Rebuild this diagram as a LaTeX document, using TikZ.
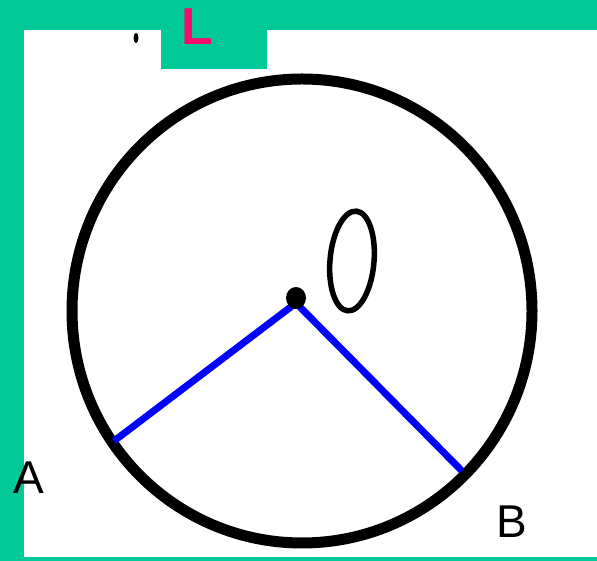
\documentclass[tikz,border=0pt]{standalone}
\usepackage{fontspec}
\setmainfont{Liberation Sans}
\definecolor{bandgreen}{RGB}{0,200,150}
\definecolor{lpink}{RGB}{245,10,110}
\tikzset{
  band/.style={fill=bandgreen, draw=none},
  ink/.style={draw=black, line width=11pt},
  radius line/.style={draw=blue, line width=7pt},
  lbl/.style={font=\fontsize{46}{46}\selectfont, text=black, inner sep=0pt, anchor=base},
}
\begin{document}
\begin{tikzpicture}[x=1pt,y=1pt]
\useasboundingbox (0,0) rectangle (597,561);
\fill[white] (0,0) rectangle (597,561);
% green frame
\path[band] (0,531) rectangle (597,561);
\path[band] (0,0) rectangle (24,561);
\path[band] (0,0) rectangle (597,3.5);
\path[band] (161,492) rectangle (267,561);
\node[font=\bfseries\fontsize{52}{52}\selectfont, text=lpink, inner sep=0pt, anchor=base] (L) at (197,516) {L};
% circle
\draw[ink] (302,250) ellipse [x radius=230, y radius=232];
% radii
\coordinate (O) at (296,258);
\coordinate (PA) at (114,120);
\coordinate (PB) at (462,90);
\draw[radius line] (O) -- (PA);
\draw[radius line] (O) -- (PB);
% centre dot
\fill[black] (296,263) ellipse [x radius=10, y radius=11];
% hand-drawn zero
\draw[black, line width=5.5pt, rotate around={-5:(352,300)}] (352,300) ellipse [x radius=22, y radius=50];
% speck
\fill[black] (136,523) ellipse [x radius=2.5, y radius=5];
% labels
\node[lbl] (A) at (28.5,67) {A};
\node[lbl] (B) at (512,23) {B};
\end{tikzpicture}
\end{document}
